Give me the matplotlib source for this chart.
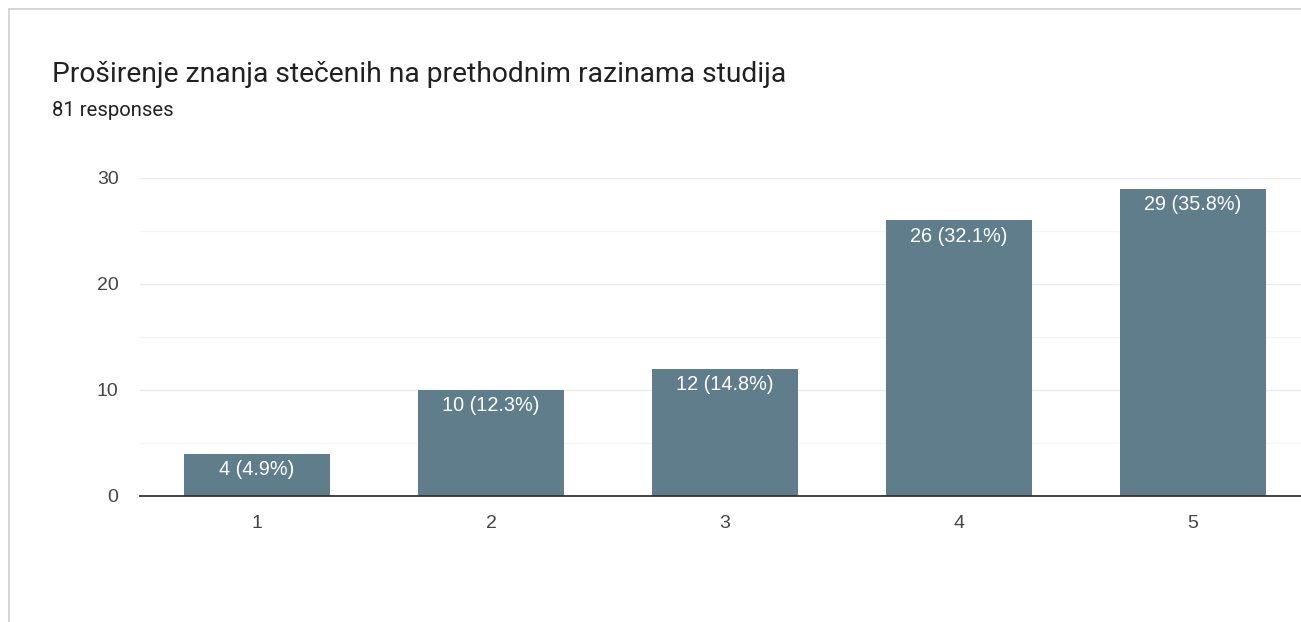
import matplotlib.pyplot as plt

# Podaci
categories = ['1', '2', '3', '4', '5']
counts = [4, 10, 12, 26, 29]
labels = ['4 (4.9%)', '10 (12.3%)', '12 (14.8%)', '26 (32.1%)', '29 (35.8%)']
yticks = [0, 10, 20, 30]

title = 'Proširenje znanja stečenih na prethodnim razinama studija'
subtitle = '81 responses'

plt.rcParams['font.family'] = ['Roboto', 'DejaVu Sans']
chart_font = ['Liberation Sans', 'DejaVu Sans']

W, H = 1301, 622
fig = plt.figure(figsize=(W / 100, H / 100), dpi=100)

# okvir kartice (desno i dolje odrezano)
fig.add_artist(plt.Line2D([8.5 / W, 8.5 / W], [0, 1 - 8.5 / H], color='#cfcfcf', lw=1.2))
fig.add_artist(plt.Line2D([8.5 / W, 1], [1 - 8.5 / H, 1 - 8.5 / H], color='#cfcfcf', lw=1.2))

fig.text(52 / W, 1 - 75 / H, title, fontsize=20.3, color='#212121', va='center')
fig.text(52 / W, 1 - 110 / H, subtitle, fontsize=14.6, color='#212121', va='center')

# osi: lijevo 140 px, dno na 496 px, vrh (30) na 178 px
ax = fig.add_axes([140 / W, 126 / H, 1170 / W, 318 / H])
x = range(1, len(categories) + 1)
ax.bar(x, counts, width=0.62, color='#607d8b', zorder=3)

for xi, c, lab in zip(x, counts, labels):
    ax.annotate(lab, (xi, c), xytext=(0, -11.5), textcoords='offset points',
                ha='center', va='center', color='white', fontsize=14.3,
                family=chart_font, zorder=4)

ax.set_xlim(0.5, 5.5)
ax.set_ylim(0, 30)
ax.set_xticks(list(x))
ax.set_xticklabels(categories, family=chart_font)
ax.set_yticks(yticks)
ax.set_yticklabels([str(v) for v in yticks], family=chart_font)
ax.set_yticks([5, 15, 25], minor=True)
ax.grid(axis='y', which='major', color='#ebebeb', lw=1, zorder=0)
ax.grid(axis='y', which='minor', color='#f5f5f5', lw=1, zorder=0)
ax.tick_params(axis='both', which='both', length=0, labelsize=14, labelcolor='#444444')
ax.tick_params(axis='x', pad=14)
ax.tick_params(axis='y', pad=15.5)
for s in ['top', 'right', 'left']:
    ax.spines[s].set_visible(False)
ax.spines['bottom'].set_color('#333333')
ax.spines['bottom'].set_linewidth(1.3)
ax.spines['bottom'].set_zorder(5)

fig.savefig('out.png', dpi=100)
